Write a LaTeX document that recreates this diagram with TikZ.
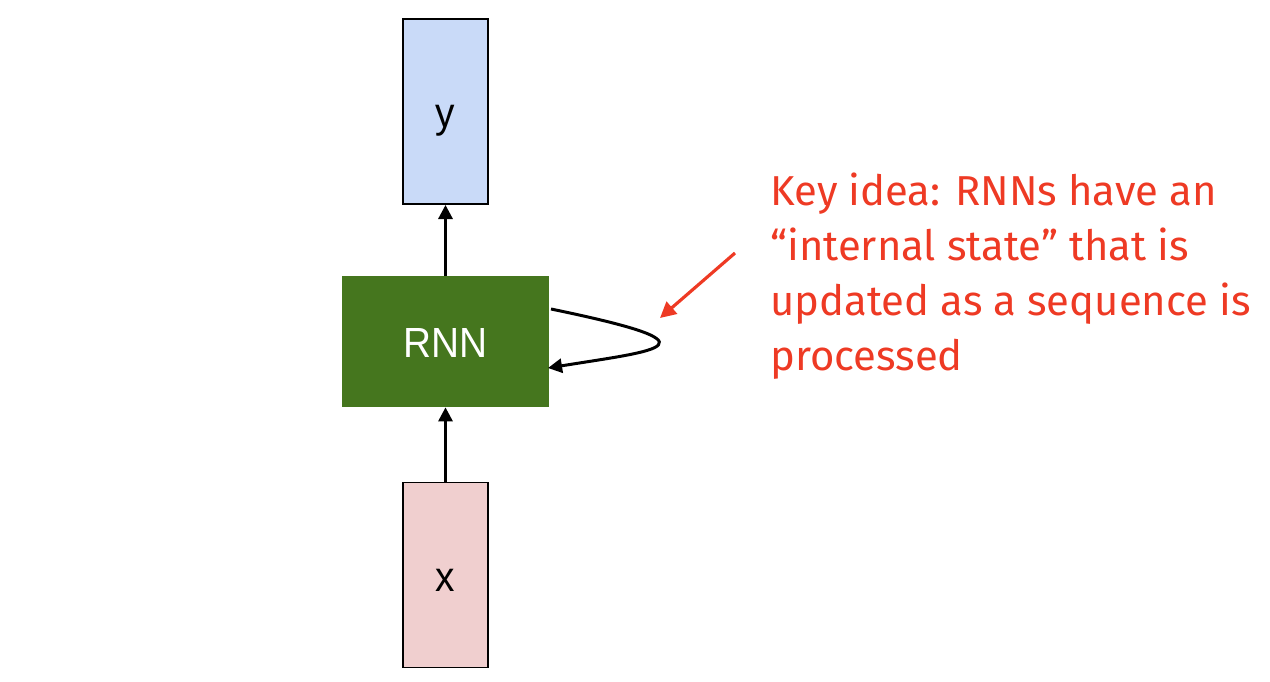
\documentclass[tikz,border=0pt]{standalone}
\usepackage{fontspec}
\setmainfont{Liberation Sans}[FakeStretch=0.92]
\newfontfamily\notefont{Fira Sans}
\usetikzlibrary{arrows.meta}
\definecolor{boxblue}{HTML}{C9DAF8}
\definecolor{boxpink}{HTML}{F0CFCF}
\definecolor{boxgreen}{HTML}{45761E}
\definecolor{notered}{HTML}{EE3A24}
\tikzset{
  boxtext/.style={font=\fontsize{24}{28}\selectfont, text height=18.5pt, text depth=0pt},
  vecbox/.style={draw=black, line width=1.1pt, minimum width=85*0.5691pt, minimum height=185*0.5691pt, inner sep=0pt, boxtext},
  rnnbox/.style={fill=boxgreen, minimum width=207*0.5691pt, minimum height=131*0.5691pt, inner sep=0pt, text=white, boxtext},
  flow/.style={line width=1.7pt, -{Triangle[length=8pt,width=8pt]}},
  pointer/.style={notered, line width=1.8pt, -{Triangle[length=9pt,width=9pt]}},
}
\begin{document}
\begin{tikzpicture}[x=0.02cm,y=-0.02cm]
\useasboundingbox (0,0) rectangle (1270,682);
\node[vecbox, fill=boxblue] (y) at (445.5,111.5) {y};
\node[rnnbox] (rnn) at (445.5,341.5) {RNN};
\node[vecbox, fill=boxpink] (x) at (445.5,575) {x};
\draw[flow] (rnn.north) -- (y.south);
\draw[flow] (x.north) -- (rnn.south);
\coordinate (loopstart) at (551,309);
\coordinate (loopend) at (548,368);
\draw[flow] (loopstart) .. controls (725,345) and (660,350) .. (loopend);
\coordinate (ptail) at (735,253);
\coordinate (ptip) at (660,318);
\draw[pointer] (ptail) -- (ptip);
\node[anchor=base west, align=left, text=notered, inner sep=0pt,
  font=\notefont\fontsize{23.8}{31.3}\selectfont] (note) at (770,370)
  {Key idea: RNNs have an\\“internal state” that is\\updated as a sequence is\\processed};
\end{tikzpicture}
\end{document}
